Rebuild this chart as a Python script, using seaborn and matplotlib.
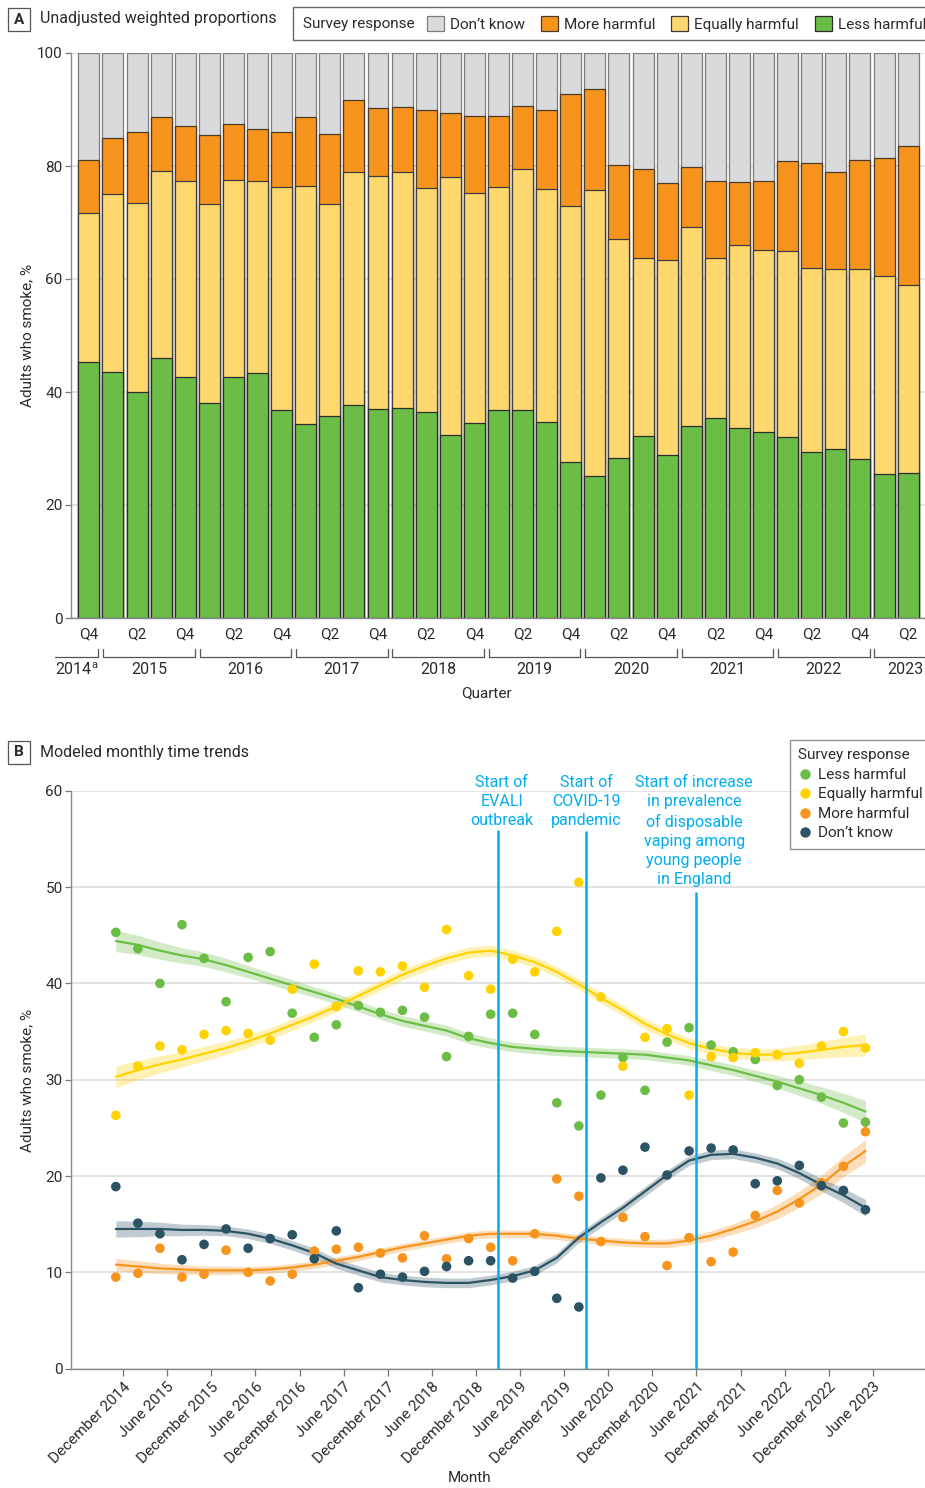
import numpy as np
import pandas as pd
import matplotlib
matplotlib.use("Agg")
import matplotlib.pyplot as plt
import matplotlib.transforms as mtransforms
from matplotlib.patches import Patch, Rectangle
from matplotlib.lines import Line2D
import seaborn as sns

# ---------------- data ----------------
quarters = ["2014 Q4"] + [f"{y} Q{q}" for y in range(2015, 2023) for q in (1, 2, 3, 4)] + ["2023 Q1", "2023 Q2"]

less_harmful = [45.3, 43.6, 40.0, 46.1, 42.6, 38.1, 42.7, 43.3, 36.9, 34.4, 35.7, 37.7, 37.0, 37.2, 36.5, 32.4, 34.5, 36.8,
                36.9, 34.7, 27.6, 25.2, 28.4, 32.3, 28.9, 33.9, 35.4, 33.6, 32.9, 32.1, 29.4, 30.0, 28.2, 25.5, 25.6]
equally_harmful = [26.3, 31.4, 33.5, 33.1, 34.7, 35.1, 34.8, 34.1, 39.4, 42.0, 37.6, 41.3, 41.2, 41.8, 39.6, 45.6, 40.8, 39.4,
                   42.5, 41.2, 45.4, 50.5, 38.6, 31.4, 34.4, 35.3, 28.4, 32.4, 32.3, 32.8, 32.6, 31.7, 33.5, 35.0, 33.3]
more_harmful = [9.5, 9.9, 12.5, 9.5, 9.8, 12.3, 10.0, 9.1, 9.8, 12.2, 12.4, 12.6, 12.0, 11.5, 13.8, 11.4, 13.5, 12.6,
                11.2, 14.0, 19.7, 17.9, 13.2, 15.7, 13.7, 10.7, 13.6, 11.1, 12.1, 15.9, 18.5, 17.2, 19.3, 21.0, 24.6]
dont_know = [18.9, 15.1, 14.0, 11.3, 12.9, 14.5, 12.5, 13.5, 13.9, 11.4, 14.3, 8.4, 9.8, 9.5, 10.1, 10.6, 11.2, 11.2,
             9.4, 10.1, 7.3, 6.4, 19.8, 20.6, 23.0, 20.1, 22.6, 22.9, 22.7, 19.2, 19.5, 21.1, 19.0, 18.5, 16.5]

# modeled trends (read at each quarter point) and half-width of the 95% band
less_fit = [44.4, 44.0, 43.4, 42.9, 42.5, 41.9, 41.2, 40.5, 39.8, 39.1, 38.4, 37.6, 36.8, 36.1, 35.6, 35.1, 34.3, 33.8,
            33.4, 33.2, 33.0, 32.9, 32.8, 32.7, 32.6, 32.3, 32.0, 31.5, 31.0, 30.4, 29.8, 29.1, 28.4, 27.6, 26.7]
equally_fit = [30.3, 31.0, 31.6, 32.1, 32.7, 33.3, 34.0, 34.8, 35.7, 36.6, 37.6, 38.7, 39.8, 40.9, 41.8, 42.6, 43.2, 43.4,
               42.9, 42.2, 41.2, 39.9, 38.5, 37.2, 35.8, 34.7, 33.8, 33.2, 32.8, 32.6, 32.6, 32.8, 33.1, 33.4, 33.6]
more_fit = [10.8, 10.6, 10.4, 10.3, 10.2, 10.2, 10.2, 10.3, 10.5, 10.8, 11.2, 11.6, 12.1, 12.6, 13.0, 13.4, 13.8, 14.0,
            14.0, 14.0, 13.8, 13.5, 13.3, 13.1, 13.0, 13.0, 13.3, 13.8, 14.5, 15.3, 16.3, 17.6, 19.1, 21.0, 22.6]
dont_fit = [14.5, 14.5, 14.5, 14.4, 14.4, 14.3, 14.0, 13.5, 12.8, 12.0, 10.9, 10.2, 9.5, 9.2, 9.0, 8.9, 8.9, 9.2,
            9.6, 10.2, 11.5, 13.6, 15.2, 16.7, 18.4, 20.1, 21.6, 22.2, 22.3, 21.9, 21.3, 20.3, 19.1, 18.0, 16.7]
less_ci = [1.1, 1.0, 0.9, 0.8, 0.75, 0.7, 0.65, 0.6, 0.6, 0.55, 0.55, 0.55, 0.55, 0.55, 0.55, 0.55, 0.55, 0.55,
           0.5, 0.5, 0.5, 0.5, 0.5, 0.5, 0.5, 0.5, 0.5, 0.55, 0.55, 0.6, 0.65, 0.75, 0.85, 1.0, 1.15]
equally_ci = [1.1, 1.0, 0.9, 0.8, 0.75, 0.7, 0.65, 0.6, 0.6, 0.55, 0.55, 0.55, 0.55, 0.55, 0.55, 0.55, 0.55, 0.55,
              0.55, 0.55, 0.55, 0.55, 0.55, 0.55, 0.55, 0.55, 0.55, 0.55, 0.55, 0.6, 0.65, 0.75, 0.85, 1.0, 1.15]
more_ci = [0.65, 0.6, 0.55, 0.5, 0.45, 0.45, 0.4, 0.4, 0.4, 0.4, 0.4, 0.4, 0.4, 0.4, 0.4, 0.4, 0.4, 0.4,
           0.4, 0.4, 0.4, 0.4, 0.4, 0.4, 0.4, 0.45, 0.45, 0.5, 0.55, 0.65, 0.75, 0.85, 0.95, 1.05, 1.2]
dont_ci = [0.85, 0.8, 0.7, 0.6, 0.55, 0.5, 0.5, 0.5, 0.5, 0.5, 0.5, 0.5, 0.5, 0.5, 0.5, 0.5, 0.5, 0.5,
           0.5, 0.5, 0.5, 0.5, 0.5, 0.5, 0.5, 0.5, 0.5, 0.5, 0.5, 0.5, 0.55, 0.6, 0.65, 0.75, 0.85]

responses = ["Less harmful", "Equally harmful", "More harmful", "Don\u2019t know"]
tick_months = ["December 2014", "June 2015", "December 2015", "June 2016", "December 2016", "June 2017",
               "December 2017", "June 2018", "December 2018", "June 2019", "December 2019", "June 2020",
               "December 2020", "June 2021", "December 2021", "June 2022", "December 2022", "June 2023"]
events = ["Start of\nEVALI\noutbreak", "Start of\nCOVID-19\npandemic",
          "Start of increase\nin prevalence\nof disposable\nvaping among\nyoung people\nin England"]
event_dates = ["2019-03", "2020-03", "2021-06"]

# ---------------- style ----------------
sns.set_theme(style="white")
plt.rcParams["font.family"] = ["Roboto", "DejaVu Sans"]
TXT = "#2b2b2b"
plt.rcParams["text.color"] = TXT
plt.rcParams["axes.labelcolor"] = TXT
plt.rcParams["xtick.color"] = TXT
plt.rcParams["ytick.color"] = TXT
FS = 11

colA = {"Less harmful": "#6CBD45", "Equally harmful": "#FED86E", "More harmful": "#F7941D", "Don\u2019t know": "#D9DADC"}
colB = {"Less harmful": "#6CBD45", "Equally harmful": "#FFD200", "More harmful": "#F7941D", "Don\u2019t know": "#2B5364"}
EVC = "#00AEEF"

W, H = 925, 1488
fig = plt.figure(figsize=(W / 100, H / 100), dpi=100)


def fx(px):
    return px / W


def fy(py):
    return 1 - py / H


# ================= Panel A =================
axA = fig.add_axes([fx(71), fy(618), fx(925 - 71), (618 - 53) / H])
dfA = pd.DataFrame({"quarter": quarters, "less": less_harmful, "equally": equally_harmful,
                    "more": more_harmful, "dont": dont_know})
dfA["c1"] = dfA["less"]
dfA["c2"] = dfA["c1"] + dfA["equally"]
dfA["c3"] = dfA["c2"] + dfA["more"]
dfA["c4"] = dfA["c3"] + dfA["dont"]

for col, resp, ec in [("c4", "Don\u2019t know", "#7d7d7d"), ("c3", "More harmful", "#4a3b2a"),
                      ("c2", "Equally harmful", "#3d3d3d"), ("c1", "Less harmful", "#2d2d2d")]:
    sns.barplot(data=dfA, x="quarter", y=col, color=colA[resp], saturation=1, width=0.87,
                edgecolor=ec, linewidth=0.9, errorbar=None, ax=axA, zorder=2)

axA.set_xlim(-0.74, 34.7)
axA.set_ylim(0, 100)
axA.set_yticks([0, 20, 40, 60, 80, 100])
axA.yaxis.grid(True, color="#e0e0e0", lw=1.3, zorder=0)
axA.set_axisbelow(True)
axA.set_xlabel("")
axA.set_ylabel("")
qpos = list(range(0, len(quarters), 2))
axA.set_xticks(qpos)
axA.set_xticklabels([quarters[i].split()[1] for i in qpos], fontsize=FS)
axA.tick_params(axis="x", length=0, pad=7)
axA.tick_params(axis="y", length=4, width=0.9, color="#777", labelsize=FS, pad=2, left=True)
for s in ["top", "right"]:
    axA.spines[s].set_visible(False)
for s in ["left", "bottom"]:
    axA.spines[s].set_color("#8a8a8a")
    axA.spines[s].set_linewidth(1.0)

# year brackets
tr = mtransforms.blended_transform_factory(axA.transData, axA.transAxes)
years = [q.split()[0] for q in quarters]
bounds = [-1.5] + [i - 0.5 for i in range(1, len(years)) if years[i] != years[i - 1]] + [35.3]
uniq_years = sorted(set(years))
yl, yt = -0.069, -0.054
for k, yr in enumerate(uniq_years):
    a, b = bounds[k] + 0.1, bounds[k + 1] - 0.1
    xs = [a, a, b, b]
    ys = [yt, yl, yl, yt]
    if k == 0:
        xs, ys = [a, b, b], [yl, yl, yt]
    axA.plot(xs, ys, color="#555", lw=0.9, transform=tr, clip_on=False)
    cx = (bounds[k] + bounds[k + 1]) / 2
    if k == len(uniq_years) - 1:
        cx = 33.9
    label = yr + r"$^{\mathregular{a}}$" if k == 0 else yr
    axA.text(cx, -0.091, label, transform=tr, ha="center", va="center", fontsize=FS + 0.5)
fig.text(fx(486), fy(693), "Quarter", ha="center", va="center", fontsize=FS)
fig.text(fx(27), fy(335), "Adults who smoke, %", rotation=90, ha="center", va="center", fontsize=FS)

# Panel A header and legend
fig.patches.append(Rectangle((fx(8), fy(31)), fx(22), 23 / H, transform=fig.transFigure,
                             fill=False, edgecolor="#555", lw=0.9))
fig.text(fx(19), fy(19.5), "A", ha="center", va="center", fontsize=FS, fontweight="bold")
fig.text(fx(40), fy(19), "Unadjusted weighted proportions", ha="left", va="center", fontsize=FS + 0.5)
fig.patches.append(Rectangle((fx(293), fy(40)), fx(650), 33 / H, transform=fig.transFigure,
                             fill=False, edgecolor="#666", lw=1.0))
fig.text(fx(303), fy(24), "Survey response", ha="left", va="center", fontsize=FS)
hA = [Patch(facecolor=colA[r], edgecolor=e, lw=0.9) for r, e in
      [("Don\u2019t know", "#7d7d7d"), ("More harmful", "#4a3b2a"), ("Equally harmful", "#3d3d3d"),
       ("Less harmful", "#2d2d2d")]]
fig.legend(hA, ["Don\u2019t know", "More harmful", "Equally harmful", "Less harmful"], ncol=4,
           loc="center left", bbox_to_anchor=(fx(427), fy(24)), frameon=False, fontsize=FS,
           handlelength=1.1, handleheight=1.1, handletextpad=0.4, columnspacing=1.05, borderpad=0,
           borderaxespad=0)

# ================= Panel B =================
axB = fig.add_axes([fx(71), fy(1368.6), fx(925 - 71), (1368.6 - 790.8) / H])


def month_index(year, month):
    return (year - 2014) * 12 + month - 12


qmonth = [month_index(int(q.split()[0]), 3 * int(q.split()[1][1]) - 1) for q in quarters]

obs = {"Less harmful": less_harmful, "Equally harmful": equally_harmful,
       "More harmful": more_harmful, "Don\u2019t know": dont_know}
fits = {"Less harmful": less_fit, "Equally harmful": equally_fit,
        "More harmful": more_fit, "Don\u2019t know": dont_fit}
cis = {"Less harmful": less_ci, "Equally harmful": equally_ci,
       "More harmful": more_ci, "Don\u2019t know": dont_ci}

dfB = pd.concat([pd.DataFrame({"month": qmonth, "value": obs[r], "fit": fits[r], "ci": cis[r], "response": r})
                 for r in responses], ignore_index=True)
dfB["lo"] = dfB["fit"] - dfB["ci"]
dfB["hi"] = dfB["fit"] + dfB["ci"]

for r in responses:
    sub = dfB[dfB["response"] == r]
    axB.fill_between(sub["month"], sub["lo"], sub["hi"], color=colB[r], alpha=0.3, lw=0, zorder=1.5)
sns.lineplot(data=dfB, x="month", y="fit", hue="response", palette=colB, hue_order=responses,
             lw=1.6, legend=False, ax=axB, zorder=2)
sns.scatterplot(data=dfB, x="month", y="value", hue="response", palette=colB, hue_order=responses,
                s=48, edgecolor="none", legend=False, ax=axB, zorder=3)

axB.set_xlim(-7.1, 109.1)
axB.set_ylim(0, 60)
axB.set_yticks(range(0, 61, 10))
axB.yaxis.grid(True, color="#e0e0e0", lw=1.3, zorder=0)
axB.set_axisbelow(True)
month_num = {"December": 12, "June": 6}
tpos = [month_index(int(t.split()[1]), month_num[t.split()[0]]) for t in tick_months]
axB.set_xticks(tpos)
axB.set_xticklabels(tick_months, rotation=45, ha="right", rotation_mode="anchor", fontsize=FS)
axB.tick_params(axis="x", length=5, width=0.9, color="#777", pad=3, bottom=True)
axB.tick_params(axis="y", length=4, width=0.9, color="#777", labelsize=FS, pad=2, left=True)
axB.set_xlabel("")
axB.set_ylabel("")
for s in ["top", "right"]:
    axB.spines[s].set_visible(False)
for s in ["left", "bottom"]:
    axB.spines[s].set_color("#8a8a8a")
    axB.spines[s].set_linewidth(1.0)

ev_top = [55.9, 55.8, 49.5]
ev_dx = [0.5, 0.0, -0.3]
for txt, d, top, dx in zip(events, event_dates, ev_top, ev_dx):
    yy, mm = d.split("-")
    m = month_index(int(yy), int(mm))
    axB.plot([m, m], [0, top], color=EVC, lw=1.8, zorder=4, solid_capstyle="butt")
    axB.text(m + dx, 61.6, txt, ha="center", va="top", color=EVC, fontsize=FS + 0.5, linespacing=1.33)

fig.text(fx(470), fy(1478), "Month", ha="center", va="center", fontsize=FS)
fig.text(fx(27), fy(1080), "Adults who smoke, %", rotation=90, ha="center", va="center", fontsize=FS)

fig.patches.append(Rectangle((fx(8), fy(764)), fx(22), 23 / H, transform=fig.transFigure,
                             fill=False, edgecolor="#555", lw=0.9))
fig.text(fx(19), fy(752.5), "B", ha="center", va="center", fontsize=FS, fontweight="bold")
fig.text(fx(40), fy(752), "Modeled monthly time trends", ha="left", va="center", fontsize=FS + 0.5)

hB = [Line2D([], [], marker="o", ls="none", markersize=7.5, markerfacecolor=colB[r], markeredgecolor="none")
      for r in responses]
legB = fig.legend(hB, responses, title="Survey response", alignment="left", loc="upper left",
                  bbox_to_anchor=(fx(790), fy(740)), frameon=True, fancybox=False, fontsize=FS,
                  title_fontsize=FS, handlelength=0.8, handletextpad=0.5, labelspacing=0.36,
                  borderpad=0.55, borderaxespad=0)
legB.get_frame().set_edgecolor("#777")
legB.get_frame().set_linewidth(1.0)

fig.savefig("out.png", dpi=100)
